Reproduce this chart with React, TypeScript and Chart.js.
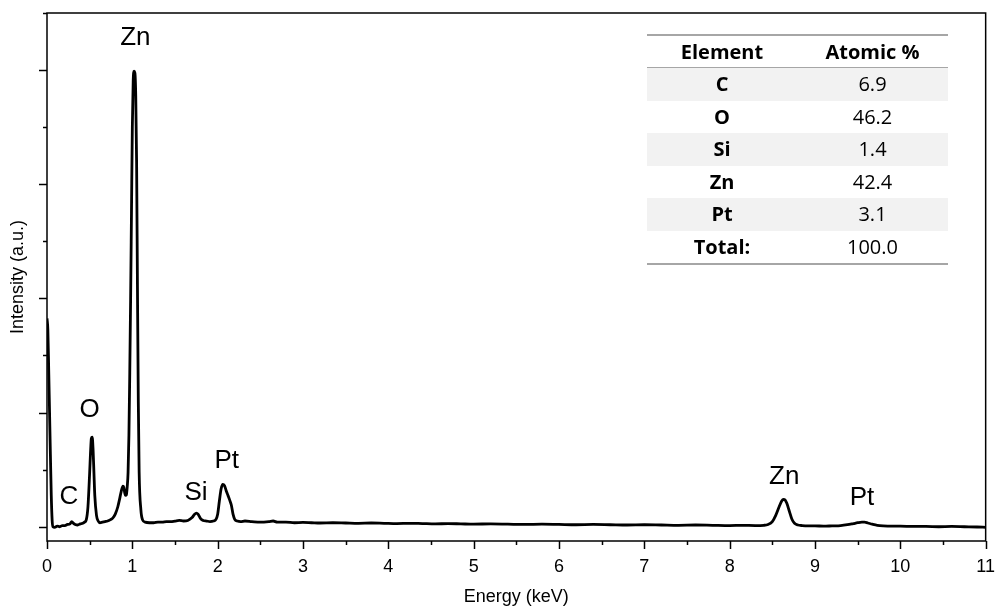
import React, { useEffect, useRef } from "react";
import { Chart, registerables } from "chart.js";

Chart.register(...registerables);

// Spectrum (energy in keV, intensity in arbitrary units)
const energyKeV = [
  0.0, 0.01, 0.02, 0.03, 0.04, 0.05, 0.06, 0.07, 0.09, 0.12,
  0.15, 0.18, 0.21, 0.24, 0.27, 0.29, 0.31, 0.33, 0.36, 0.39,
  0.42, 0.44, 0.46, 0.48, 0.5, 0.51, 0.52, 0.53, 0.54, 0.55,
  0.56, 0.58, 0.6, 0.62, 0.65, 0.68, 0.71, 0.74, 0.77, 0.8,
  0.83, 0.85, 0.87, 0.89, 0.9, 0.91, 0.92, 0.93, 0.94, 0.95,
  0.96, 0.97, 0.98, 0.99, 1.0, 1.01, 1.02, 1.03, 1.04, 1.05,
  1.06, 1.07, 1.08, 1.1, 1.12, 1.15, 1.2, 1.25, 1.3, 1.35,
  1.4, 1.45, 1.5, 1.55, 1.6, 1.65, 1.7, 1.73, 1.75, 1.77,
  1.8, 1.83, 1.87, 1.91, 1.95, 1.98, 2.0, 2.02, 2.04, 2.06,
  2.08, 2.1, 2.12, 2.14, 2.16, 2.18, 2.2, 2.23, 2.27, 2.32,
  2.4, 2.5, 2.6, 2.65, 2.7, 2.8, 2.9, 3.0, 3.1, 3.2,
  3.35, 3.5, 3.65, 3.8, 3.95, 4.1, 4.25, 4.4, 4.55, 4.7,
  4.85, 5.0, 5.2, 5.4, 5.6, 5.8, 6.0, 6.2, 6.4, 6.6,
  6.8, 7.0, 7.2, 7.4, 7.6, 7.8, 8.0, 8.15, 8.3, 8.4,
  8.45, 8.5, 8.54, 8.58, 8.61, 8.63, 8.65, 8.67, 8.7, 8.73,
  8.76, 8.8, 8.85, 8.92, 9.0, 9.1, 9.2, 9.3, 9.38, 9.45,
  9.5, 9.55, 9.58, 9.62, 9.67, 9.73, 9.8, 9.9, 10.0, 10.15,
  10.3, 10.45, 10.6, 10.75, 10.9, 11.0,
];

const intensity = [
  3.65, 3.45, 2.75, 2.0, 1.25, 0.55, 0.12, 0.0, -0.01, 0.01,
  0.0, 0.02, 0.02, 0.04, 0.05, 0.09, 0.06, 0.04, 0.03, 0.05,
  0.06, 0.08, 0.12, 0.35, 0.95, 1.3, 1.55, 1.57, 1.35, 0.95,
  0.55, 0.2, 0.1, 0.07, 0.08, 0.09, 0.1, 0.12, 0.15, 0.22,
  0.35, 0.48, 0.62, 0.71, 0.69, 0.6, 0.55, 0.56, 0.7, 0.95,
  1.6, 2.7, 4.0, 5.5, 7.0, 7.8, 7.98, 7.95, 7.55, 6.4,
  4.2, 2.2, 0.95, 0.3, 0.12, 0.08, 0.07, 0.07, 0.08, 0.08,
  0.09, 0.09, 0.1, 0.11, 0.1, 0.11, 0.16, 0.22, 0.24, 0.22,
  0.14, 0.11, 0.1, 0.09, 0.1, 0.13, 0.22, 0.45, 0.66, 0.74,
  0.72, 0.63, 0.55, 0.47, 0.38, 0.22, 0.13, 0.1, 0.09, 0.1,
  0.09, 0.08, 0.09, 0.1, 0.08, 0.08, 0.07, 0.075, 0.07, 0.065,
  0.07, 0.065, 0.06, 0.065, 0.06, 0.055, 0.06, 0.055, 0.05, 0.055,
  0.05, 0.045, 0.05, 0.045, 0.04, 0.045, 0.04, 0.035, 0.04, 0.035,
  0.03, 0.035, 0.03, 0.025, 0.03, 0.025, 0.02, 0.025, 0.02, 0.025,
  0.04, 0.09, 0.2, 0.35, 0.45, 0.48, 0.47, 0.41, 0.27, 0.13,
  0.06, 0.03, 0.02, 0.015, 0.015, 0.01, 0.015, 0.02, 0.035, 0.055,
  0.07, 0.08, 0.08, 0.065, 0.045, 0.025, 0.015, 0.01, 0.01, 0.005,
  0.005, 0.0, 0.005, 0.0, -0.005, -0.01,
];

// Peak annotations
const peakLabels = ["Zn", "O", "C", "Si", "Pt", "Zn", "Pt"];
const peakLabelX = [1.035, 0.5, 0.256, 1.746, 2.107, 8.64, 9.55];
const peakLabelY = [8.57, 2.05, 0.52, 0.59, 1.15, 0.87, 0.51];

// Composition table
const tableElements = ["C", "O", "Si", "Zn", "Pt", "Total:"];
const tableAtomic = ["6.9", "46.2", "1.4", "42.4", "3.1", "100.0"];

// Axis ranges / ticks
const xMin = 0;
const xMax = 11;
const yMin = -0.25;
const yMax = 9;
const xMinorTicks = [0, 0.5, 1, 1.5, 2, 2.5, 3, 3.5, 4, 4.5, 5, 5.5, 6, 6.5, 7, 7.5, 8, 8.5, 9, 9.5, 10, 10.5, 11];
const yTicks = [0, 1, 2, 3, 4, 5, 6, 7, 8, 9];

const AXIS_FONT = "'Liberation Sans', Arial, sans-serif";

const framePlugin = {
  id: "frameAndLabels",
  afterDatasetsDraw(chart: any) {
    const { ctx, chartArea: a, scales } = chart;
    const xs = scales.x;
    const ys = scales.y;
    ctx.save();
    ctx.strokeStyle = "#000";
    ctx.lineWidth = 1.5;
    ctx.strokeRect(a.left, a.top, a.right - a.left, a.bottom - a.top);
    xMinorTicks.forEach((v) => {
      const px = Math.round(xs.getPixelForValue(v)) + 0.5;
      const len = Number.isInteger(v) ? 8 : 4;
      ctx.beginPath();
      ctx.moveTo(px, a.bottom);
      ctx.lineTo(px, a.bottom + len);
      ctx.stroke();
    });
    yTicks.forEach((v) => {
      const py = Math.round(ys.getPixelForValue(v)) + 0.5;
      const len = v % 2 === 0 ? 8 : 4;
      ctx.beginPath();
      ctx.moveTo(a.left - len, py);
      ctx.lineTo(a.left, py);
      ctx.stroke();
    });
    ctx.font = `26px ${AXIS_FONT}`;
    ctx.fillStyle = "#000";
    ctx.textAlign = "center";
    ctx.textBaseline = "middle";
    peakLabels.forEach((t, i) => {
      ctx.fillText(t, xs.getPixelForValue(peakLabelX[i]), ys.getPixelForValue(peakLabelY[i]));
    });
    ctx.restore();
  },
};

function SpectrumChart() {
  const ref = useRef<HTMLCanvasElement | null>(null);
  useEffect(() => {
    if (!ref.current) return;
    const points = energyKeV.map((x, i) => ({ x, y: intensity[i] }));
    const chart = new Chart(ref.current, {
      type: "line",
      data: {
        datasets: [
          {
            data: points,
            borderColor: "#000",
            borderWidth: 2.8,
            pointRadius: 0,
            cubicInterpolationMode: "monotone",
            fill: false,
          },
        ],
      },
      options: {
        animation: false,
        responsive: false,
        devicePixelRatio: 1,
        layout: { padding: { top: 13, right: 10, left: 0, bottom: 0 } },
        plugins: { legend: { display: false }, tooltip: { enabled: false } },
        scales: {
          x: {
            type: "linear",
            min: xMin,
            max: xMax,
            grid: { display: false, drawTicks: true, tickLength: 8 },
            border: { display: false },
            ticks: {
              stepSize: 1,
              color: "#000",
              padding: 7,
              maxRotation: 0,
              autoSkip: false,
              font: { family: AXIS_FONT, size: 18 },
            },
            title: {
              display: true,
              text: "Energy (keV)",
              color: "#000",
              padding: 0,
              font: { family: AXIS_FONT, size: 18, lineHeight: 1 },
            },
            afterFit: (s: any) => {
              s.height = 65;
            },
          },
          y: {
            type: "linear",
            min: yMin,
            max: yMax,
            grid: { display: false },
            border: { display: false },
            ticks: { display: false },
            title: {
              display: true,
              text: "Intensity (a.u.)",
              color: "#000",
              padding: { top: 9, bottom: 0 },
              font: { family: AXIS_FONT, size: 18, lineHeight: 1 },
            },
            afterFit: (s: any) => {
              s.width = 47;
            },
          },
        },
      },
      plugins: [framePlugin],
    });
    return () => chart.destroy();
  }, []);
  return <canvas ref={ref} width={1002} height={606} style={{ display: "block" }} />;
}

function CompositionTable() {
  const rowStyle = (i: number): React.CSSProperties => ({
    height: 32.5,
    display: "flex",
    alignItems: "center",
    background: i % 2 === 0 && i < 5 ? "#f2f2f2" : "transparent",
  });
  const cell1: React.CSSProperties = { width: 150, textAlign: "center", fontWeight: 700 };
  const cell2: React.CSSProperties = { width: 151, textAlign: "center" };
  return (
    <div
      style={{
        position: "absolute",
        left: 647,
        top: 34,
        width: 301,
        fontFamily: "'Open Sans', sans-serif",
        fontSize: 20,
        lineHeight: 1,
        color: "#000",
        borderTop: "2px solid #a6a6a6",
        borderBottom: "2px solid #a6a6a6",
      }}
    >
      <div
        style={{
          height: 31,
          display: "flex",
          alignItems: "center",
          fontWeight: 700,
          borderBottom: "1.5px solid #a6a6a6",
        }}
      >
        <div style={cell1}>Element</div>
        <div style={{ ...cell2, fontWeight: 700 }}>Atomic %</div>
      </div>
      {tableElements.map((el, i) => (
        <div key={el} style={rowStyle(i)}>
          <div style={cell1}>{el}</div>
          <div style={cell2}>{tableAtomic[i]}</div>
        </div>
      ))}
    </div>
  );
}

export default function App() {
  useEffect(() => {
    document.body.style.margin = "0";
  }, []);
  return (
    <div style={{ position: "relative", width: 1002, height: 606, background: "#fff" }}>
      <SpectrumChart />
      <CompositionTable />
    </div>
  );
}
